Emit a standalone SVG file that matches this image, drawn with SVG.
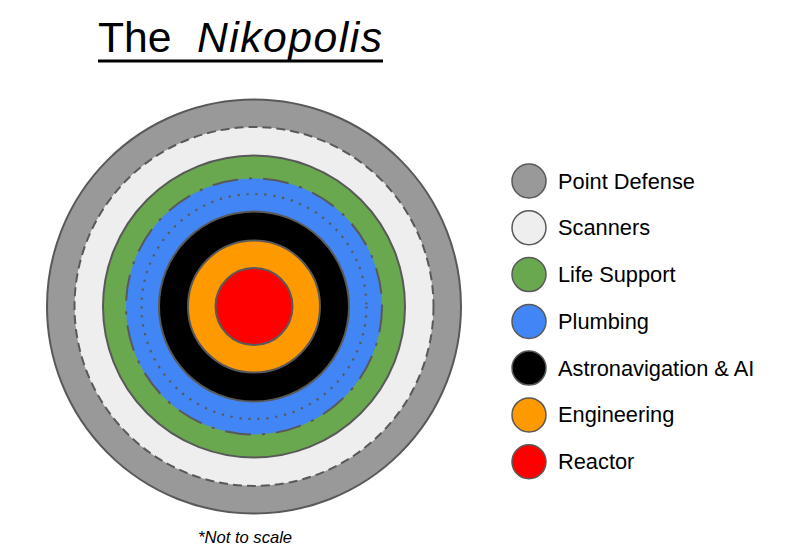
<svg xmlns="http://www.w3.org/2000/svg" width="804" height="558" viewBox="0 0 804 558">
<style>
text{font-family:"Liberation Sans",Arial,sans-serif;fill:#000}
.ring{stroke:#595959;stroke-width:2}
.leg{stroke:#595959;stroke-width:1.5}
.lt{font-size:21.8px}
</style>
<rect width="804" height="558" fill="#fff"/>
<g id="title">
<text x="98" y="52" font-size="42.67">The <tspan x="197" font-style="italic" textLength="185" lengthAdjust="spacing">Nikopolis</tspan></text>
<rect x="98" y="59.5" width="285" height="3" fill="#000"/>
</g>
<g id="diagram">
<circle id="point-defense" class="ring" cx="254" cy="306.5" r="207" fill="#999999" stroke-width="1.5"/>
<circle id="scanners" class="ring" cx="254" cy="306.5" r="179.5" fill="#eeeeee" stroke-dasharray="9 5"/>
<circle id="life-support" class="ring" cx="254" cy="306.5" r="151" fill="#6aa84f"/>
<circle id="plumbing" class="ring" cx="254" cy="306.5" r="128" fill="#4285f4" stroke-width="3" stroke-dasharray="26 11 3 11"/>
<circle id="plumbing-inner" cx="254" cy="306.5" r="112.5" fill="none" stroke="#595959" stroke-width="2.2" stroke-dasharray="2.2 6.8"/>
<circle id="astronavigation" class="ring" cx="254" cy="306.5" r="95" fill="#000000"/>
<circle id="engineering" class="ring" cx="254" cy="306.5" r="66" fill="#ff9900"/>
<circle id="reactor" class="ring" cx="254" cy="306.5" r="38.5" fill="#ff0000"/>
</g>
<g id="legend">
<g id="leg-point-defense"><circle class="leg" cx="529" cy="181" r="17" fill="#999999"/><text class="lt" x="558" y="188.5">Point Defense</text></g>
<g id="leg-scanners"><circle class="leg" cx="529" cy="227.8" r="17" fill="#eeeeee"/><text class="lt" x="558" y="235.3">Scanners</text></g>
<g id="leg-life-support"><circle class="leg" cx="529" cy="274.6" r="17" fill="#6aa84f"/><text class="lt" x="558" y="282">Life Support</text></g>
<g id="leg-plumbing"><circle class="leg" cx="529" cy="321.4" r="17" fill="#4285f4"/><text class="lt" x="558" y="328.8">Plumbing</text></g>
<g id="leg-astronavigation"><circle class="leg" cx="529" cy="368.1" r="17" fill="#000000"/><text class="lt" x="558" y="375.6">Astronavigation &amp; AI</text></g>
<g id="leg-engineering"><circle class="leg" cx="529" cy="414.9" r="17" fill="#ff9900"/><text class="lt" x="558" y="422.4">Engineering</text></g>
<g id="leg-reactor"><circle class="leg" cx="529" cy="461.7" r="17" fill="#ff0000"/><text class="lt" x="558" y="469.2">Reactor</text></g>
</g>
<text id="note" x="198" y="543" font-size="16.6" font-style="italic">*Not to scale</text>
</svg>
